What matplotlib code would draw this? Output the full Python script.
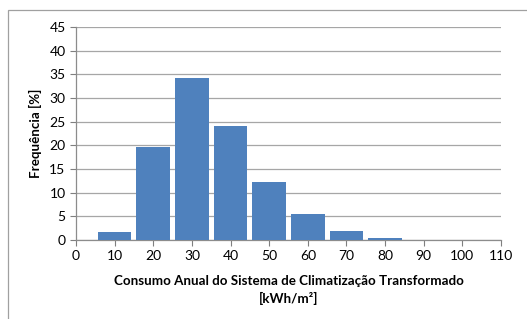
import matplotlib.pyplot as plt
from matplotlib.patches import Rectangle

# bins (kWh/m2) and frequencies (%)
bins = [10, 20, 30, 40, 50, 60, 70, 80, 90, 100]
freq = [1.7, 19.7, 34.3, 24.0, 12.3, 5.5, 1.9, 0.5, 0.1, 0.05]
xticks = list(range(0, 111, 10))
yticks = list(range(0, 46, 5))

plt.rcParams['font.family'] = ['Lato', 'DejaVu Sans']

fig = plt.figure(figsize=(5.27, 3.19), dpi=100)
ax = fig.add_axes([76/527, 1 - 240/319, (501 - 76)/527, (240 - 27)/319])

ax.bar(bins, freq, width=8.7, color='#4F81BD', zorder=3)

ax.set_xlim(0, 110)
ax.set_ylim(0, 45)
ax.set_xticks(xticks)
ax.set_yticks(yticks)
ax.tick_params(labelsize=10, colors='#7f7f7f', labelcolor='black', length=4, width=0.8)
ax.yaxis.grid(True, color='#a6a6a6', linewidth=0.9, zorder=0)

for s in ['top', 'right']:
    ax.spines[s].set_visible(False)
for s in ['left', 'bottom']:
    ax.spines[s].set_color('#8c8c8c')
    ax.spines[s].set_linewidth(0.9)

ax.set_xlabel('Consumo Anual do Sistema de Climatização Transformado\n[kWh/m²]',
              fontsize=9.6, fontweight='bold', linespacing=1.5, labelpad=9)
ax.set_ylabel('Frequência [%]', fontsize=9.6, fontweight='bold', labelpad=5)

# outer chart frame (only top/left visible in the crop)
fig.patches.append(Rectangle((8/527, -0.2), 1.0, 1.2 - 10/319, transform=fig.transFigure,
                             fill=False, edgecolor='#a0a0a0', linewidth=0.9))

fig.savefig('out.png', dpi=100)
